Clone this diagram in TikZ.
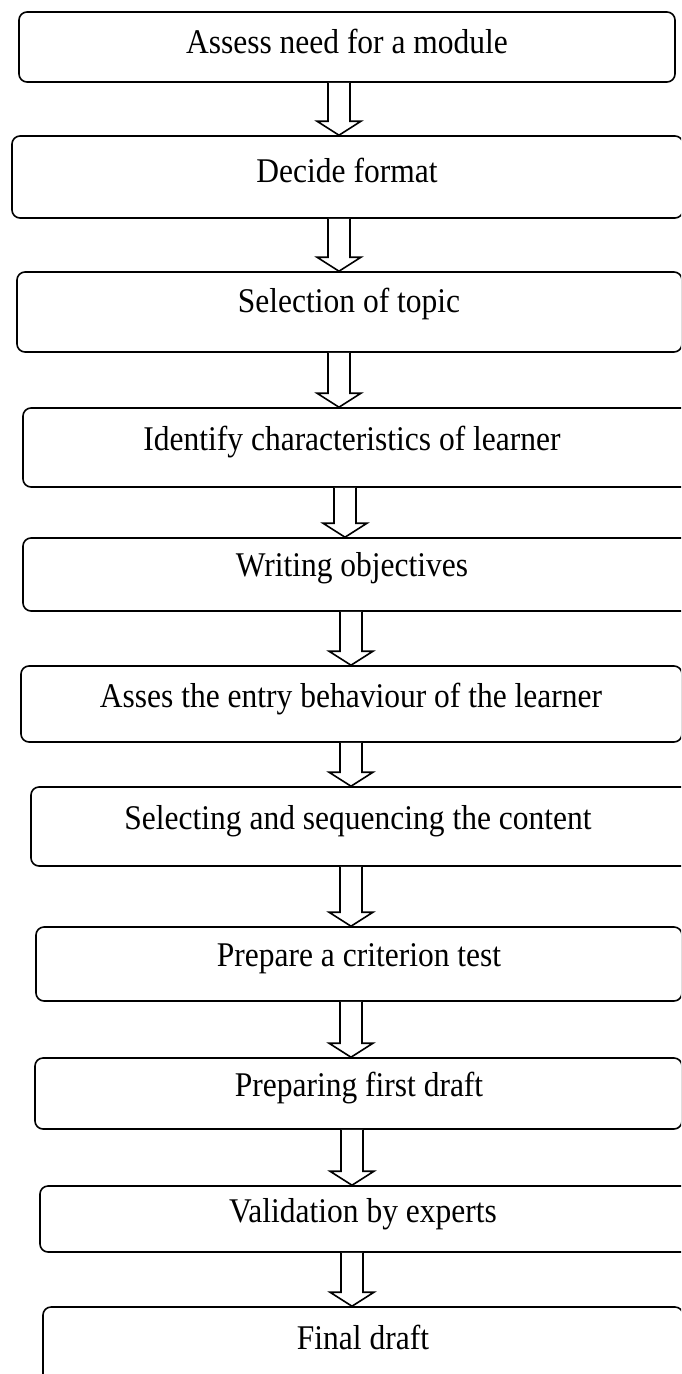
\documentclass[tikz,border=0pt]{standalone}
\usepackage{fontspec}
\usepackage{graphicx}
\setmainfont{Liberation Serif}
\usetikzlibrary{calc}
\tikzset{
  stagebox/.style={draw=black, line width=1.6pt, rounded corners=8pt, fill=none, inner sep=0pt},
  stagetext/.style={font=\fontsize{31.5}{36}\selectfont, inner sep=0pt, text height=0.7em, text depth=0.2em},
  blockarrow/.style={draw=black, line width=1.6pt, fill=white, line join=miter},
}
\newcommand{\tallsc}[1]{\scalebox{1}[1.1]{#1}}
% box: name, left, right, top, bottom (px, y downward)
\newcommand{\stagebx}[5]{%
  \node[stagebox, minimum width=#3pt-#2pt, minimum height=#5pt-#4pt]
    (#1) at ({(#2+#3)/2*1pt}, {-(#4+#5)/2*1pt}) {};}
% arrow: name, x centre, from, to
\newcommand{\flowarrow}[4]{%
  \draw[blockarrow] let \p1=(#3.south), \p2=(#4.north) in
    (#2pt-11pt,\y1) -- (#2pt-11pt,\y2+14pt) -- (#2pt-22pt,\y2+14pt) -- (#2pt,\y2)
    -- (#2pt+22pt,\y2+14pt) -- (#2pt+11pt,\y2+14pt) -- (#2pt+11pt,\y1);}
\begin{document}
\begin{tikzpicture}[x=1pt,y=1pt]
\useasboundingbox (0,0) rectangle (681,-1374);
\clip (0,0) rectangle (681,-1374);
\stagebx{b1}{19}{675}{12}{82}
\stagebx{b2}{12}{683}{136}{218}
\stagebx{b3}{17}{682}{272}{352}
\stagebx{b4}{23}{690}{408}{487}
\stagebx{b5}{23}{690}{538}{611}
\stagebx{b6}{21}{682}{666}{742}
\stagebx{b7}{31}{690}{787}{866}
\stagebx{b8}{36}{682}{927}{1001}
\stagebx{b9}{35}{682}{1058}{1129}
\stagebx{b10}{40}{690}{1186}{1252}
\stagebx{b11}{43}{683}{1307}{1400}

\node[stagetext] (t1) at (347,-51) {\tallsc{Assess need for a module}};
\node[stagetext] (t2) at (347,-180) {\tallsc{Decide format}};
\node[stagetext] (t3) at (349,-310) {\tallsc{Selection of topic}};
\node[stagetext] (t4) at (352,-448) {\tallsc{Identify characteristics of learner}};
\node[stagetext] (t5) at (352,-574) {\tallsc{Writing objectives}};
\node[stagetext] (t6) at (351,-705) {\tallsc{Asses the entry behaviour of the learner}};
\node[stagetext] (t7) at (358,-827) {\tallsc{Selecting and sequencing the content}};
\node[stagetext] (t8) at (359,-964) {\tallsc{Prepare a criterion test}};
\node[stagetext] (t9) at (359,-1094) {\tallsc{Preparing first draft}};
\node[stagetext] (t10) at (363,-1220) {\tallsc{Validation by experts}};
\node[stagetext] (t11) at (363,-1347) {\tallsc{Final draft}};

\flowarrow{a1}{339}{b1}{b2}
\flowarrow{a2}{339}{b2}{b3}
\flowarrow{a3}{339}{b3}{b4}
\flowarrow{a4}{345}{b4}{b5}
\flowarrow{a5}{351}{b5}{b6}
\flowarrow{a6}{351}{b6}{b7}
\flowarrow{a7}{351}{b7}{b8}
\flowarrow{a8}{351}{b8}{b9}
\flowarrow{a9}{352}{b9}{b10}
\flowarrow{a10}{352}{b10}{b11}
\end{tikzpicture}
\end{document}
